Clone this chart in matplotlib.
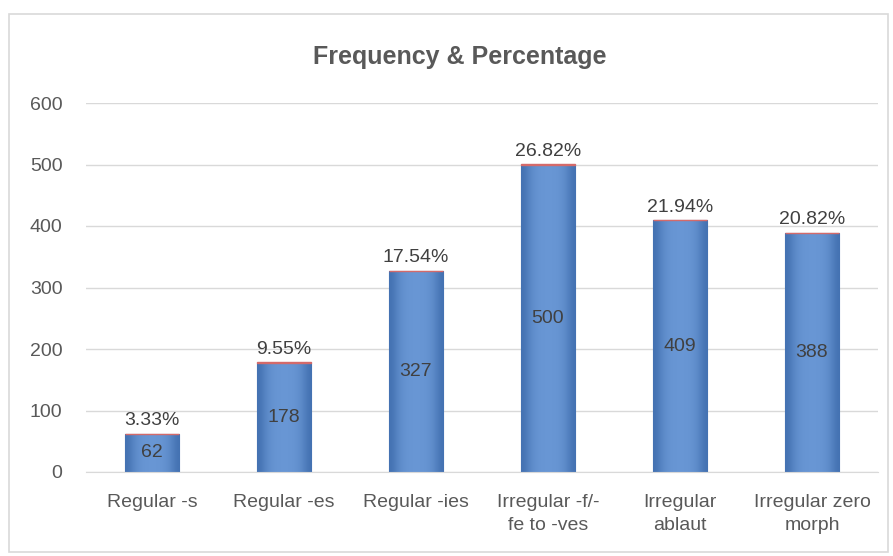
import numpy as np
import matplotlib.pyplot as plt
from matplotlib.patches import Rectangle

categories = ['Regular -s', 'Regular -es', 'Regular -ies', 'Irregular -f/-\nfe to -ves',
              'Irregular\nablaut', 'Irregular zero\nmorph']
frequency = [62, 178, 327, 500, 409, 388]
percentage = [3.33, 9.55, 17.54, 26.82, 21.94, 20.82]

plt.rcParams['font.family'] = ['Liberation Sans', 'DejaVu Sans']
grey = '#595959'
fs = 14

fig = plt.figure(figsize=(8.93, 5.56), dpi=100)
fig.patches.append(Rectangle((9 / 893, 1 - 552 / 556), 879 / 893, 538 / 556,
                             transform=fig.transFigure, fill=False,
                             edgecolor='#d9d9d9', linewidth=1.2))
ax = fig.add_axes([86 / 893, 1 - 472 / 556, 792 / 893, 369 / 556])

x = np.arange(len(categories))
w = 0.41
bars = ax.bar(x, frequency, width=w, color='#4f81bd', edgecolor='#3f6ca8',
              linewidth=0.8, zorder=2)
# percentage series stacked as fractions -> just a thin red cap
pct_frac = [p / 100 for p in percentage]
ax.bar(x, pct_frac, width=w, bottom=frequency, color='#c0504d',
       edgecolor='#d46a6a', linewidth=1.0, zorder=3)

# bevel-ish shading
grad = np.array([[0.0, 0.6, 0.9, 1.0, 1.0, 1.0, 0.9, 0.6, 0.0]])
cmap = plt.matplotlib.colors.LinearSegmentedColormap.from_list('bev', ['#4472b2', '#6896d4'])
for b in bars:
    x0, y0 = b.get_x(), b.get_y()
    bw, bh = b.get_width(), b.get_height()
    im = ax.imshow(grad, cmap=cmap, aspect='auto', interpolation='bicubic',
                   extent=[x0, x0 + bw, y0, y0 + bh], zorder=2.5)
    im.set_clip_path(b)

for i in range(len(x)):
    ax.text(x[i], frequency[i] / 2, str(frequency[i]), ha='center', va='center',
            fontsize=fs, color='#404040', zorder=4)
    ax.text(x[i], frequency[i] + 8, '%.2f%%' % percentage[i],
            ha='center', va='bottom', fontsize=fs, color='#404040', zorder=4)

ax.set_xlim(-0.5, len(categories) - 0.5)
ax.set_ylim(0, 600)
ax.set_yticks(np.arange(0, 601, 100))
ax.set_xticks(x)
ax.set_xticklabels(categories, fontsize=fs, color=grey, linespacing=1.45)
ax.tick_params(axis='y', labelsize=fs, colors=grey, length=0, pad=17)
ax.tick_params(axis='x', length=0, pad=16)
ax.grid(axis='y', color='#d9d9d9', linewidth=1, zorder=0)
for s in ['top', 'right', 'left']:
    ax.spines[s].set_visible(False)
ax.spines['bottom'].set_color('#d9d9d9')
ax.set_axisbelow(True)

fig.text(460 / 893, 1 - 57 / 556, 'Frequency & Percentage', ha='center', va='center',
         fontsize=18, fontweight='bold', color=grey)

fig.savefig('out.png', dpi=100)
